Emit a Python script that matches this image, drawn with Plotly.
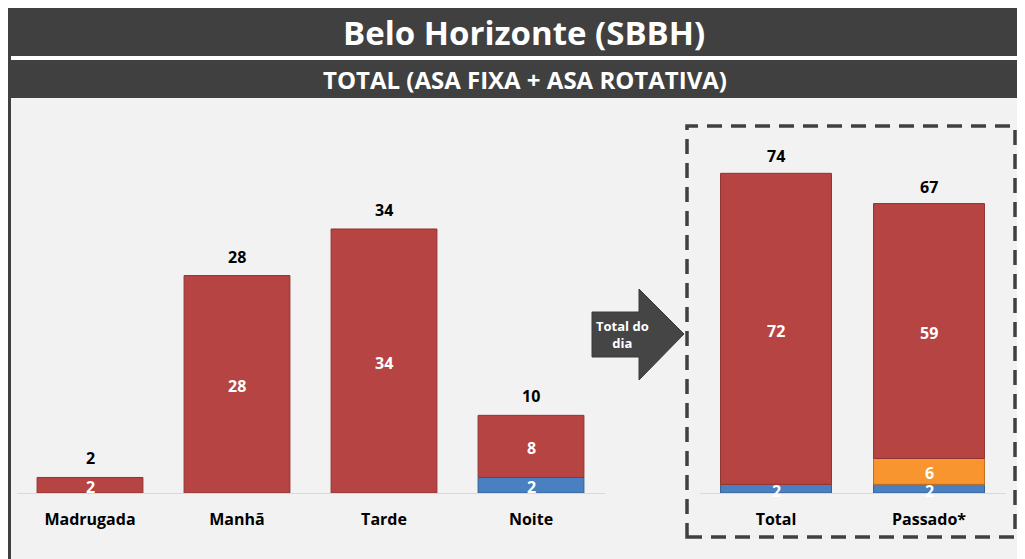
import plotly.graph_objects as go

W, H = 1025, 559
OFF = 8  # page body margin: figure origin sits at (8, 8) in the screenshot

# ---------------- data ----------------
periods = ["Madrugada", "Manhã", "Tarde", "Noite"]
period_blue = [0, 0, 0, 2]
period_red = [2, 28, 34, 8]

summary = ["Total", "Passado*"]
summary_blue = [2, 2]
summary_orange = [0, 6]
summary_red = [72, 59]

title_text = "Belo Horizonte (SBBH)"
subtitle_text = "TOTAL (ASA FIXA + ASA ROTATIVA)"
arrow_text = "Total do<br>dia"

# ---------------- style ----------------
FONT = "Open Sans"
RED, RED_LINE = "#b64442", "#8f3432"
BLUE, BLUE_LINE = "#4a7fc1", "#35608f"
ORANGE, ORANGE_LINE = "#f8952e", "#c06e1c"
DARK = "#404040"
PANEL = "#f2f2f2"


def px(x):
    return (x - OFF) / W


def py(y):
    return 1 - (y - OFF) / H


base_y = 493
top_y = 110
left_scale = 7.765   # px per unit
right_scale = 4.32

fig = go.Figure()
annotations = []


def add_stack(xcats, series, xa, ya, width):
    bottoms = [0] * len(xcats)
    for vals, col, lcol in series:
        fig.add_trace(go.Bar(
            x=xcats, y=vals, base=bottoms[:], marker=dict(color=col, line=dict(color=lcol, width=1)),
            width=width, xaxis=xa, yaxis=ya, showlegend=False, hoverinfo="skip"))
        for i, v in enumerate(vals):
            if v > 0:
                annotations.append(dict(
                    x=xcats[i], y=bottoms[i] + v / 2, xref=xa, yref=ya, text=str(v), showarrow=False,
                    xanchor="center", yanchor="middle", yshift=-2,
                    font=dict(family=FONT, size=16, color="white", weight="bold")))
        bottoms = [b + v for b, v in zip(bottoms, vals)]
    return bottoms


tot_left = add_stack(periods, [(period_blue, BLUE, BLUE_LINE), (period_red, RED, RED_LINE)], "x", "y", 0.72)
tot_right = add_stack(summary, [(summary_blue, BLUE, BLUE_LINE), (summary_orange, ORANGE, ORANGE_LINE),
                                (summary_red, RED, RED_LINE)], "x2", "y2", 0.725)

for c, t in zip(periods, tot_left):
    annotations.append(dict(x=c, y=t, xref="x", yref="y", text=str(t), showarrow=False, yshift=19,
                            font=dict(family=FONT, size=16, color="black", weight="bold")))
for c, t in zip(summary, tot_right):
    annotations.append(dict(x=c, y=t, xref="x2", yref="y2", text=str(t), showarrow=False, yshift=17,
                            font=dict(family=FONT, size=16, color="black", weight="bold")))

annotations.append(dict(x=px(524), y=py(33), xref="paper", yref="paper", text=title_text, showarrow=False,
                        xanchor="center", yanchor="middle",
                        font=dict(family=FONT, size=33, color="white", weight="bold")))
annotations.append(dict(x=px(524.5), y=py(79), xref="paper", yref="paper", text=subtitle_text,
                        showarrow=False, xanchor="center", yanchor="middle",
                        font=dict(family=FONT, size=24, color="white", weight="bold")))
annotations.append(dict(x=px(622), y=py(335), xref="paper", yref="paper", text=arrow_text, showarrow=False,
                        xanchor="center", yanchor="middle",
                        font=dict(family=FONT, size=13, color="white", weight="bold")))

shapes = [
    # gray panel
    dict(type="rect", xref="paper", yref="paper", x0=px(11), x1=px(W + OFF), y0=py(H + OFF), y1=py(98),
         fillcolor=PANEL, line=dict(width=0), layer="below"),
    # header bands
    dict(type="rect", xref="paper", yref="paper", x0=px(8), x1=px(W + OFF), y0=py(56), y1=py(8),
         fillcolor=DARK, line=dict(width=0), layer="below"),
    dict(type="rect", xref="paper", yref="paper", x0=px(8), x1=px(W + OFF), y0=py(98), y1=py(60),
         fillcolor=DARK, line=dict(width=0), layer="below"),
    # left border
    dict(type="rect", xref="paper", yref="paper", x0=px(8), x1=px(11), y0=py(H + OFF), y1=py(56),
         fillcolor=DARK, line=dict(width=0), layer="below"),
    # dashed box
    dict(type="rect", xref="paper", yref="paper", x0=px(687), x1=px(1015), y0=py(537), y1=py(126),
         fillcolor="rgba(0,0,0,0)", line=dict(color=DARK, width=3.5, dash="15px,9px")),
    # arrow
    dict(type="path", xref="paper", yref="paper",
         path="M {} {} L {} {} L {} {} L {} {} L {} {} L {} {} L {} {} Z".format(
             px(592), py(312), px(639), py(312), px(639), py(289), px(684), py(334),
             px(639), py(380), px(639), py(357), px(592), py(357)),
         fillcolor="#454545", line=dict(color="#3a3a3a", width=1)),
]

ydom = [py(base_y), py(top_y)]
fig.update_layout(
    width=W, height=H, margin=dict(l=0, r=0, t=0, b=0),
    paper_bgcolor="white", plot_bgcolor="rgba(0,0,0,0)",
    barmode="overlay",
    shapes=shapes, annotations=annotations,
    xaxis=dict(domain=[px(16.5), px(604.5)], range=[-0.5, 3.5], showline=True, linecolor="#d9d9d9",
               linewidth=1, showgrid=False, zeroline=False, ticks="", ticklabelstandoff=12,
               tickfont=dict(family=FONT, size=16, color="black", weight="bold"), fixedrange=True),
    yaxis=dict(domain=ydom, range=[0, (base_y - top_y) / left_scale], visible=False, fixedrange=True),
    xaxis2=dict(domain=[px(699.5), px(1005.5)], range=[-0.5, 1.5], showline=True, linecolor="#d9d9d9",
                linewidth=1, showgrid=False, zeroline=False, ticks="", ticklabelstandoff=12,
                tickfont=dict(family=FONT, size=16, color="black", weight="bold"), fixedrange=True,
                anchor="y2"),
    yaxis2=dict(domain=ydom, range=[0, (base_y - top_y) / right_scale], visible=False, fixedrange=True,
                anchor="x2"),
)

fig.write_html("out.html", config={"displayModeBar": False})
